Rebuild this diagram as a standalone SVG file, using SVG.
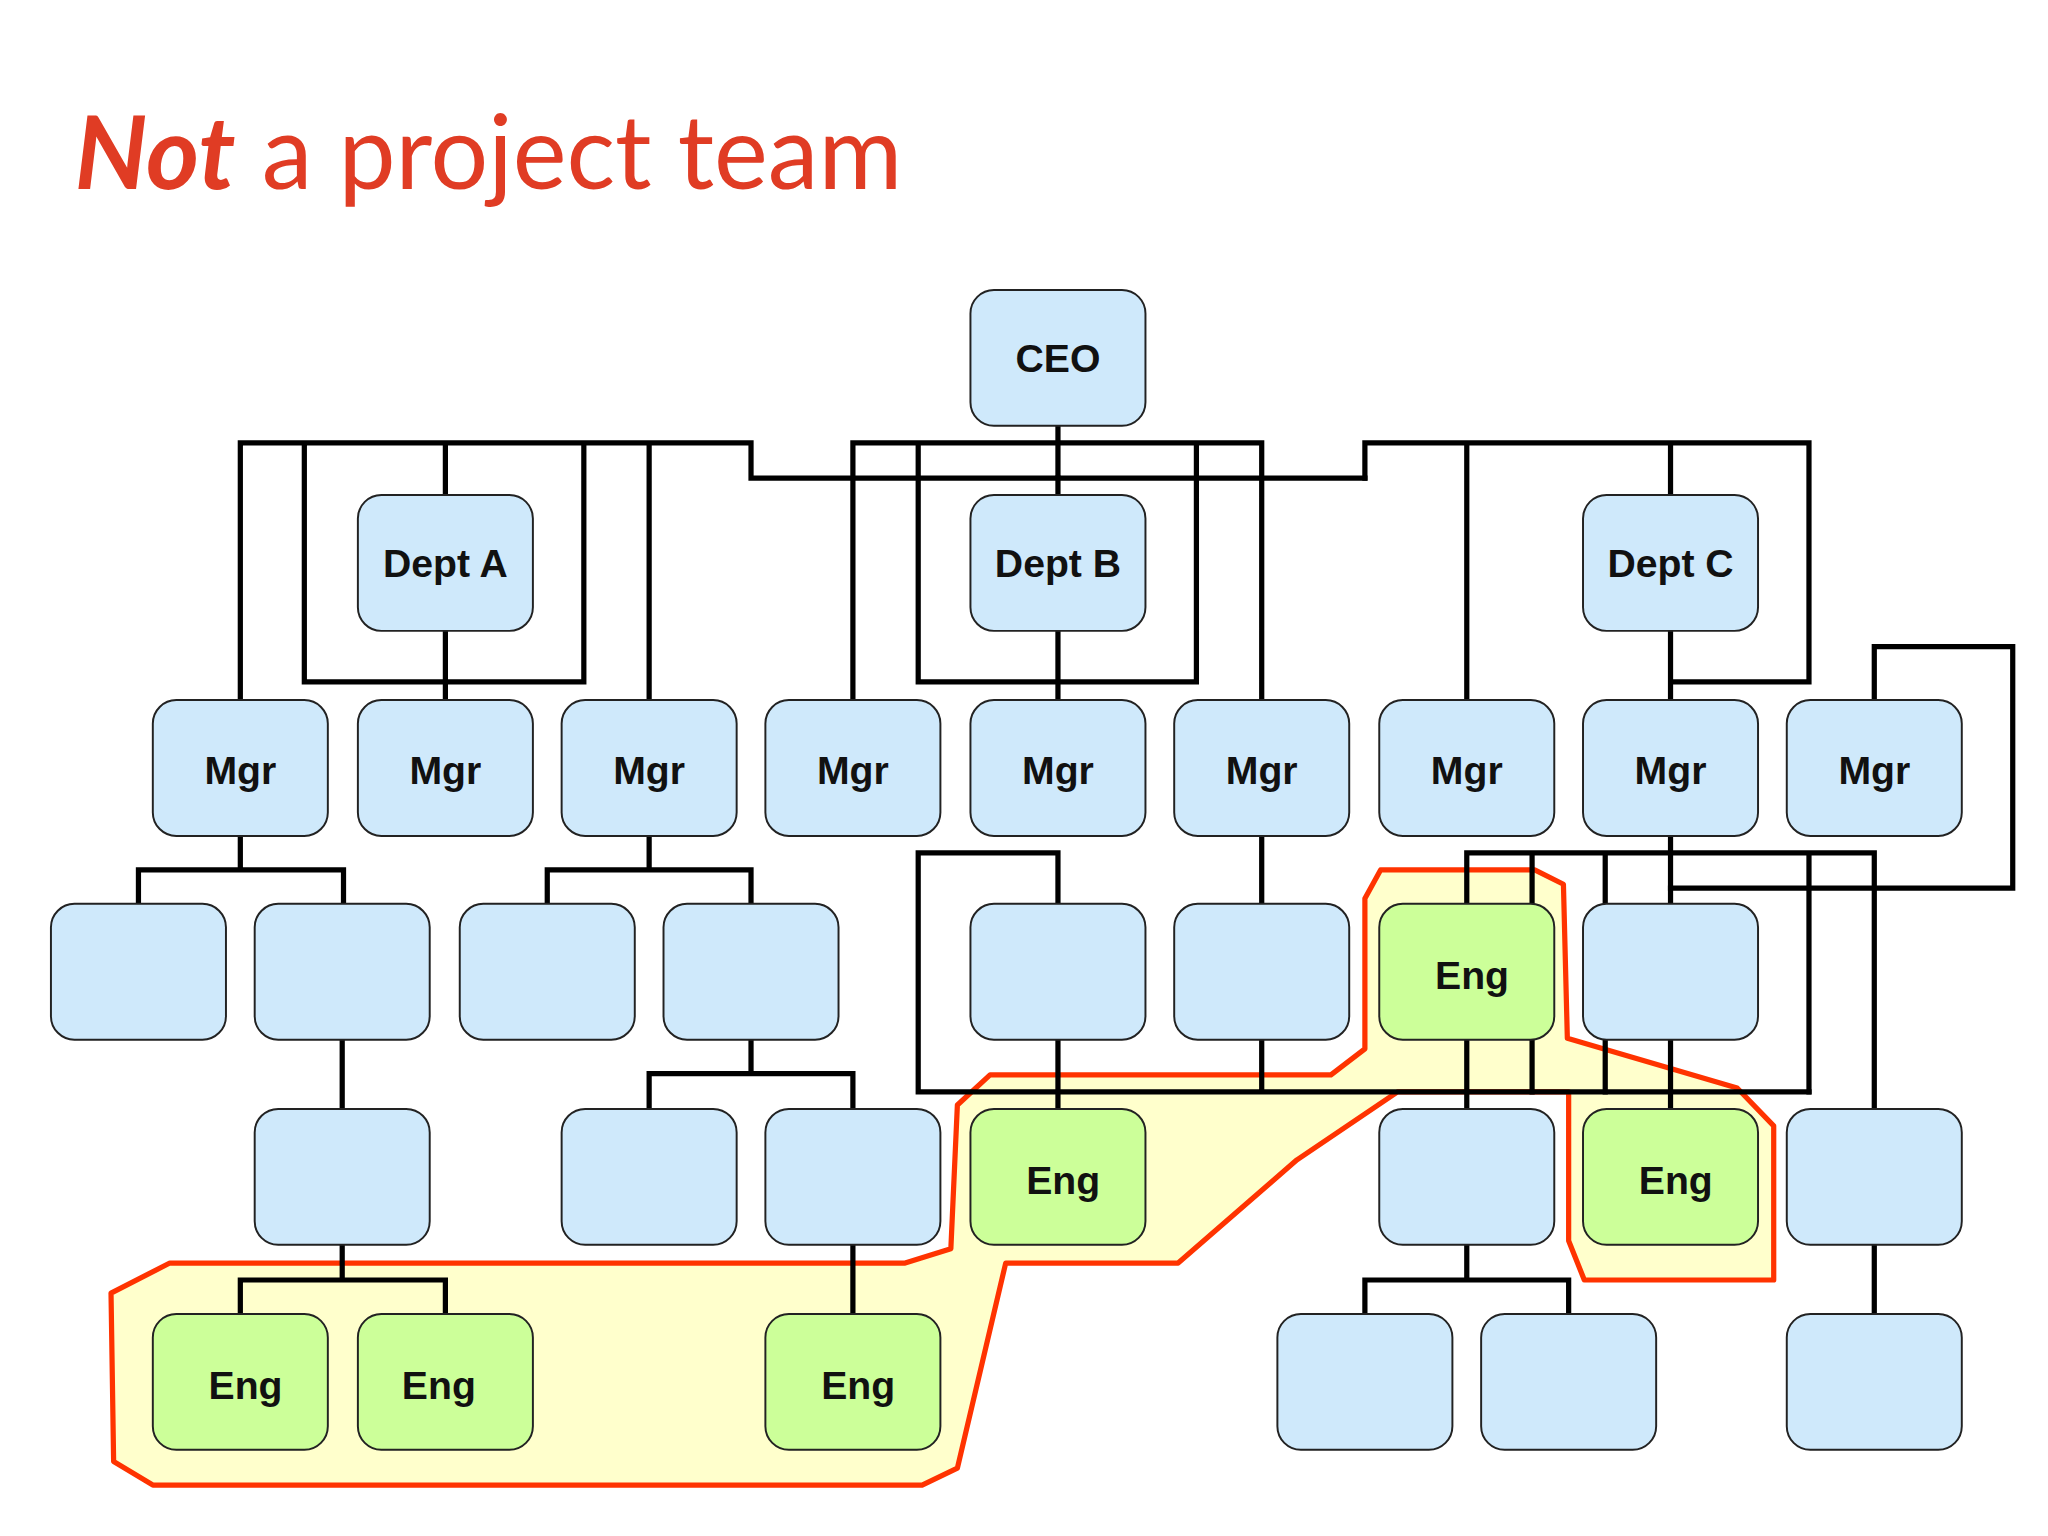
<svg xmlns="http://www.w3.org/2000/svg" width="2048" height="1536" viewBox="0 0 2048 1536">
<style>
.b{fill:#cfe9fb;stroke:#222;stroke-width:1.5}
.g{fill:#ccff99;stroke:#222;stroke-width:1.5}
.t{font-family:"Liberation Sans",Arial,sans-serif;font-weight:bold;font-size:30px;fill:#111;text-anchor:middle}
.c{fill:none;stroke:#000;stroke-width:4;stroke-linecap:square}
.h{fill:#ffffcc;stroke:#ff3300;stroke-width:4;stroke-linejoin:round}
</style>
<rect width="2048" height="1536" fill="#fff"/>
<g transform="scale(1.30612)">
<text x="57" y="145" font-family="Lato,'Open Sans',sans-serif" font-size="78" fill="#e03c24"><tspan font-weight="bold" font-style="italic">Not</tspan> a project team</text>
<g id="highlight">
<polygon class="h" points="85,990 130,967 693,967 728,956 733,846 758,823 1019,823 1045,803 1045,688 1057,666 1175,666 1197,677 1200,795 1330,833 1358,862 1358,980 1213,980 1201,950 1201,836 1070,836 993,888 902,967 770,967 733,1124 706,1137 117,1137 87,1119"/>
</g>
<g id="connectors">
<path class="c" d="M810,326V366M575,366H1045M575,366V339H184V536M233,339V522H447V339M341,339V379M497,339V536M341,483V536"/>
<path class="c" d="M653,339H966V536M653,339V536M703,339V522H916V339M810,366V379M810,483V536"/>
<path class="c" d="M1045,366V339H1385V522H1279M1123,339V536M1279,339V379M1279,483V536"/>
<path class="c" d="M1435,536V495H1541V680H1279"/>
<path class="c" d="M184,640V666M106,666H263M106,666V692M263,666V692M497,640V666M419,666H575M419,666V692M575,666V692"/>
<path class="c" d="M810,692V653H703V836H1385M810,796V849M966,640V692M966,796V836"/>
<path class="c" d="M1279,640V692M1123,653H1435V849M1123,653V692M1173,653V692M1229,653V692M1385,653V836"/>
<path class="c" d="M1123,796V849M1173,796V836M1229,796V836M1279,796V849"/>
<path class="c" d="M262,796V849M262,953V980M184,980H341M184,980V1006M341,980V1006M575,796V822M497,822H653M497,822V849M653,822V849M653,953V1006"/>
<path class="c" d="M1123,953V980M1045,980H1201M1045,980V1006M1201,980V1006M1435,953V1006"/>
</g>
<g id="ceo"><rect class="b" x="743" y="222" width="134" height="104" rx="18"/><text class="t" x="810" y="285">CEO</text></g>
<g id="deptA"><rect class="b" x="274" y="379" width="134" height="104" rx="18"/><text class="t" x="341" y="442">Dept A</text></g>
<g id="deptB"><rect class="b" x="743" y="379" width="134" height="104" rx="18"/><text class="t" x="810" y="442">Dept B</text></g>
<g id="deptC"><rect class="b" x="1212" y="379" width="134" height="104" rx="18"/><text class="t" x="1279" y="442">Dept C</text></g>
<g id="mgr1"><rect class="b" x="117" y="536" width="134" height="104" rx="18"/><text class="t" x="184" y="600">Mgr</text></g>
<g id="mgr2"><rect class="b" x="274" y="536" width="134" height="104" rx="18"/><text class="t" x="341" y="600">Mgr</text></g>
<g id="mgr3"><rect class="b" x="430" y="536" width="134" height="104" rx="18"/><text class="t" x="497" y="600">Mgr</text></g>
<g id="mgr4"><rect class="b" x="586" y="536" width="134" height="104" rx="18"/><text class="t" x="653" y="600">Mgr</text></g>
<g id="mgr5"><rect class="b" x="743" y="536" width="134" height="104" rx="18"/><text class="t" x="810" y="600">Mgr</text></g>
<g id="mgr6"><rect class="b" x="899" y="536" width="134" height="104" rx="18"/><text class="t" x="966" y="600">Mgr</text></g>
<g id="mgr7"><rect class="b" x="1056" y="536" width="134" height="104" rx="18"/><text class="t" x="1123" y="600">Mgr</text></g>
<g id="mgr8"><rect class="b" x="1212" y="536" width="134" height="104" rx="18"/><text class="t" x="1279" y="600">Mgr</text></g>
<g id="mgr9"><rect class="b" x="1368" y="536" width="134" height="104" rx="18"/><text class="t" x="1435" y="600">Mgr</text></g>
<g id="r4a"><rect class="b" x="39" y="692" width="134" height="104" rx="18"/></g>
<g id="r4b"><rect class="b" x="195" y="692" width="134" height="104" rx="18"/></g>
<g id="r4c"><rect class="b" x="352" y="692" width="134" height="104" rx="18"/></g>
<g id="r4d"><rect class="b" x="508" y="692" width="134" height="104" rx="18"/></g>
<g id="r4e"><rect class="b" x="743" y="692" width="134" height="104" rx="18"/></g>
<g id="r4f"><rect class="b" x="899" y="692" width="134" height="104" rx="18"/></g>
<g id="eng1"><rect class="g" x="1056" y="692" width="134" height="104" rx="18"/><text class="t" x="1127" y="757">Eng</text></g>
<g id="r4h"><rect class="b" x="1212" y="692" width="134" height="104" rx="18"/></g>
<g id="r5a"><rect class="b" x="195" y="849" width="134" height="104" rx="18"/></g>
<g id="r5b"><rect class="b" x="430" y="849" width="134" height="104" rx="18"/></g>
<g id="r5c"><rect class="b" x="586" y="849" width="134" height="104" rx="18"/></g>
<g id="eng2"><rect class="g" x="743" y="849" width="134" height="104" rx="18"/><text class="t" x="814" y="914">Eng</text></g>
<g id="r5e"><rect class="b" x="1056" y="849" width="134" height="104" rx="18"/></g>
<g id="eng3"><rect class="g" x="1212" y="849" width="134" height="104" rx="18"/><text class="t" x="1283" y="914">Eng</text></g>
<g id="r5g"><rect class="b" x="1368" y="849" width="134" height="104" rx="18"/></g>
<g id="eng4"><rect class="g" x="117" y="1006" width="134" height="104" rx="18"/><text class="t" x="188" y="1071">Eng</text></g>
<g id="eng5"><rect class="g" x="274" y="1006" width="134" height="104" rx="18"/><text class="t" x="336" y="1071">Eng</text></g>
<g id="eng6"><rect class="g" x="586" y="1006" width="134" height="104" rx="18"/><text class="t" x="657" y="1071">Eng</text></g>
<g id="r6d"><rect class="b" x="978" y="1006" width="134" height="104" rx="18"/></g>
<g id="r6e"><rect class="b" x="1134" y="1006" width="134" height="104" rx="18"/></g>
<g id="r6f"><rect class="b" x="1368" y="1006" width="134" height="104" rx="18"/></g>
</g>
</svg>
